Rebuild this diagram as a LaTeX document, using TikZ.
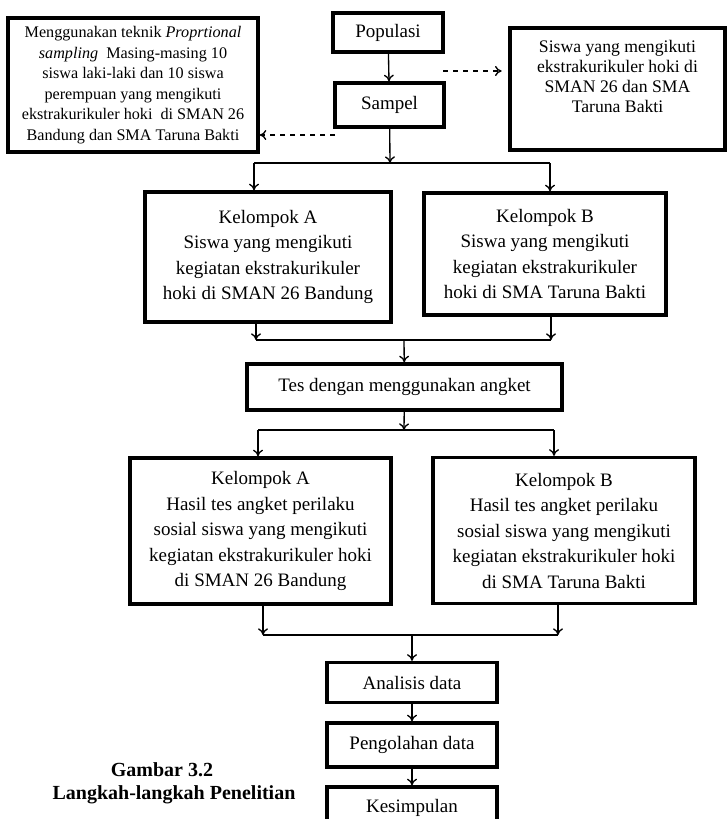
\documentclass[tikz,border=0pt]{standalone}
\usepackage{fontspec}
\setmainfont{Liberation Serif}
\usetikzlibrary{arrows.meta}

\tikzset{
  kotak/.style={draw,line width=2pt,align=center,inner sep=2pt,
    font=\fontsize{11.4}{15.3}\selectfont},
  panah/.style={line width=0.8pt,-{To[length=4pt,width=6pt]}},
  garis/.style={line width=0.8pt},
}

\begin{document}
\begin{tikzpicture}[x=0.6pt,y=-0.6pt]
      \useasboundingbox (0,0) rectangle (726,819);

      % kotak utama
      \node [kotak,minimum width=66pt,minimum height=23.4pt] (pop) at (388,32.5) {Populasi};
      \node [kotak,minimum width=65.4pt,minimum height=26.4pt] (sam) at (389.5,105) {Sampel};

      \node [kotak,minimum width=129pt,minimum height=73.2pt,
        font=\fontsize{10.6}{12}\selectfont] (info) at (617.5,89)
        {Siswa yang mengikuti\\ ekstrakurikuler hoki di\\ SMAN 26 dan SMA\\ Taruna Bakti\\ \strut};

      \node [kotak,minimum width=150pt,minimum height=80.4pt,
        font=\fontsize{9.7}{12.3}\selectfont] (teknik) at (133,85)
        {Menggunakan teknik \textit{Proprtional}\\
         \textit{sampling}\enspace Masing-masing 10\\
         siswa laki-laki dan 10 siswa\\
         perempuan yang mengikuti\\
         ekstrakurikuler hoki\ \ di SMAN 26\\
         Bandung dan SMA Taruna Bakti};

      \node [kotak,minimum width=147.6pt,minimum height=78pt] (grpA) at (268,257)
        {Kelompok A\\ Siswa yang mengikuti\\ kegiatan ekstrakurikuler\\ hoki di SMAN 26 Bandung};
      \node [kotak,minimum width=145.2pt,minimum height=73.2pt] (grpB) at (545,254)
        {Kelompok B\\ Siswa yang mengikuti\\ kegiatan ekstrakurikuler\\ hoki di SMA Taruna Bakti};

      \node [kotak,minimum width=189pt,minimum height=27.6pt] (tes) at (404.5,387)
        {Tes dengan menggunakan angket};

      \node [kotak,minimum width=156.6pt,minimum height=87.6pt] (hasA) at (260.5,531)
        {Kelompok A\\ Hasil tes angket perilaku\\ sosial siswa yang mengikuti\\
         kegiatan ekstrakurikuler hoki\\ di SMAN 26 Bandung};
      \node [kotak,minimum width=157.2pt,minimum height=87.6pt] (hasB) at (564,530.5)
        {Kelompok B\\ Hasil tes angket perilaku\\ sosial siswa yang mengikuti\\
         kegiatan ekstrakurikuler hoki\\ di SMA Taruna Bakti};

      \node [kotak,minimum width=102pt,minimum height=24pt] (anl) at (412,682.5) {Analisis data};
      \node [kotak,minimum width=102pt,minimum height=26.4pt] (olah) at (412,745) {Pengolahan data};
      \node [kotak,minimum width=102pt,minimum height=25.2pt] (simp) at (412,808) {Kesimpulan};

      % judul gambar
      \node [font=\fontsize{12}{14}\selectfont\bfseries] (gbr) at (162,770) {Gambar 3.2};
      \node [font=\fontsize{12}{14}\selectfont\bfseries] (jdl) at (174,795) {Langkah-langkah Penelitian};

      % titik bantu
      \coordinate (d1) at (443,71);
      \coordinate (d2) at (335,135);
      \coordinate (s1) at (390,163);
      \coordinate (s1a) at (254,163);
      \coordinate (s1b) at (550,163);
      \coordinate (g1a) at (256,340);
      \coordinate (g1b) at (551,340);
      \coordinate (g1) at (404,340);
      \coordinate (t1) at (404,430);
      \coordinate (t1a) at (258,430);
      \coordinate (t1b) at (554,430);
      \coordinate (h1a) at (263,635);
      \coordinate (h1b) at (558,635);
      \coordinate (h1) at (412,635);

      \draw [panah] (pop) -- (sam);
      \draw [panah,dashed] (d1) -- ([xshift=-4pt]info.west |- d1);
      \draw [panah,dashed] (d2) -- (teknik.east |- d2);

      \draw [panah] (sam) -- (s1);
      \draw [garis] (s1a) -- (s1b);
      \draw [panah] (s1a) -- (s1a |- grpA.north);
      \draw [panah] (s1b) -- (s1b |- grpB.north);

      \draw [panah] (g1a |- grpA.south) -- (g1a);
      \draw [panah] (g1b |- grpB.south) -- (g1b);
      \draw [garis] (g1a) -- (g1b);
      \draw [panah] (g1) -- (tes);

      \draw [panah] (tes) -- (t1);
      \draw [garis] (t1a) -- (t1b);
      \draw [panah] (t1a) -- (t1a |- hasA.north);
      \draw [panah] (t1b) -- (t1b |- hasB.north);

      \draw [panah] (h1a |- hasA.south) -- (h1a);
      \draw [panah] (h1b |- hasB.south) -- (h1b);
      \draw [garis] (h1a) -- (h1b);
      \draw [panah] (h1) -- (anl);

      \draw [panah] (anl) -- (olah);
      \draw [panah] (olah) -- (simp);
  \end{tikzpicture}
\end{document}
